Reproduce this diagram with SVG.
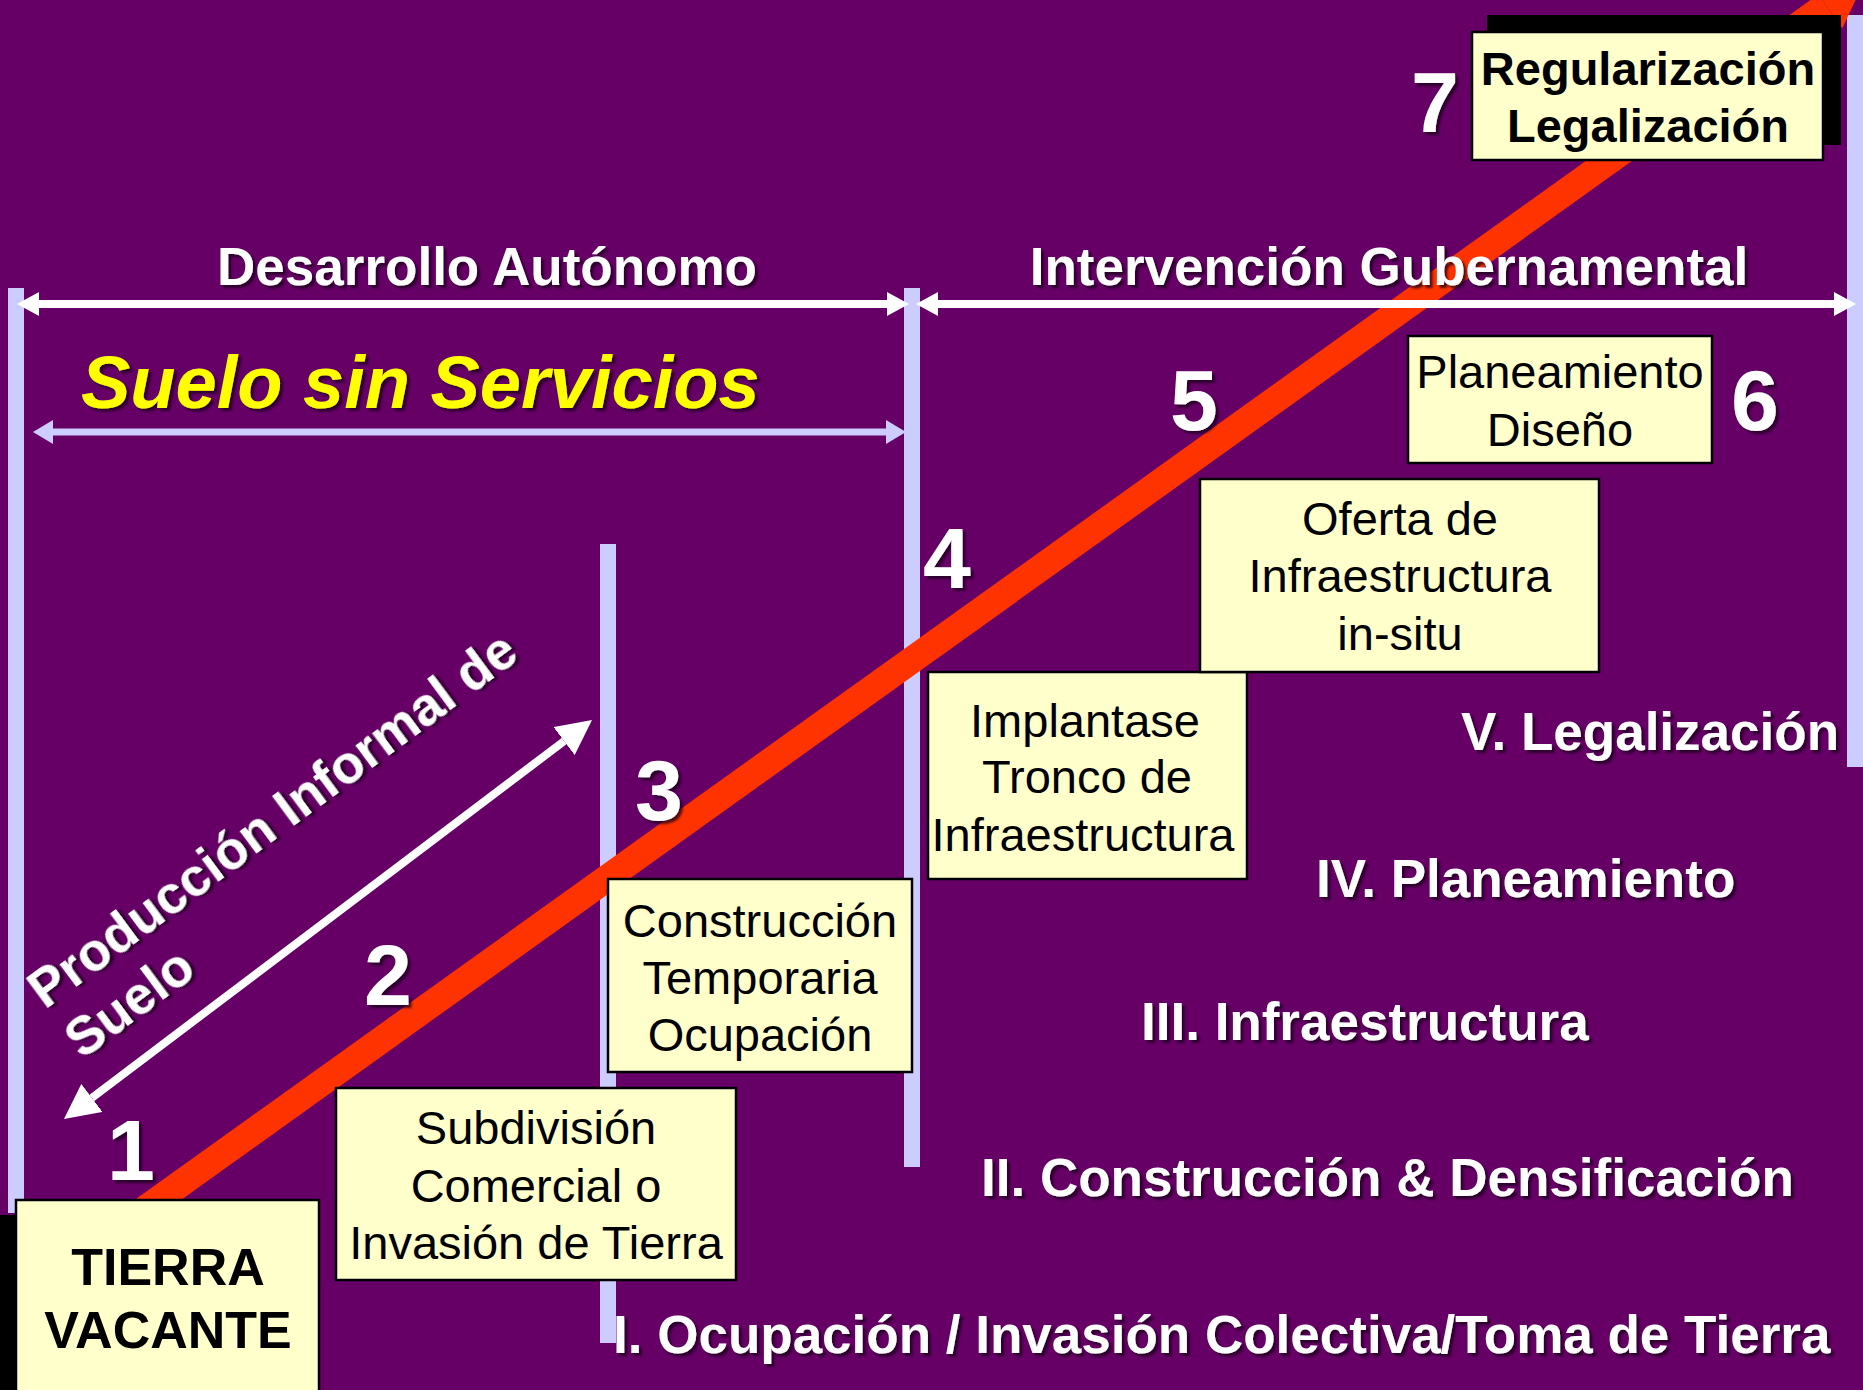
<svg xmlns="http://www.w3.org/2000/svg" width="1863" height="1390" viewBox="0 0 1863 1390">
<defs>
<style>
.bar{fill:#CCCCFF}
.box{fill:#FFFFCC;stroke:#000;stroke-width:2.5}
.shadowbox{fill:#000}
.bt{font-family:"Liberation Sans",Arial,sans-serif;font-size:47px;fill:#000;text-anchor:middle}
.bb{font-family:"Liberation Sans",Arial,sans-serif;font-weight:bold;fill:#000;text-anchor:middle}
.wt{font-family:"Liberation Sans",Arial,sans-serif;font-weight:bold;font-size:53px;fill:#fff;filter:url(#sh)}
.num{font-family:"Liberation Sans",Arial,sans-serif;font-weight:bold;font-size:86px;fill:#fff;text-anchor:middle;filter:url(#sh)}
.wline{stroke:#fff;stroke-width:8;fill:none}
.lline{stroke:#CCCCFF;stroke-width:7;fill:none}
</style>
<filter id="sh" x="-10%" y="-20%" width="130%" height="150%">
<feDropShadow dx="3" dy="3" stdDeviation="1.2" flood-color="#1a001a" flood-opacity="0.75"/>
</filter>
<marker id="wh" markerUnits="userSpaceOnUse" markerWidth="22" markerHeight="24" refX="0" refY="12" orient="auto-start-reverse">
<path d="M0,0 L22,12 L0,24 z" fill="#fff"/>
</marker>
<marker id="lh" markerUnits="userSpaceOnUse" markerWidth="20" markerHeight="24" refX="0" refY="12" orient="auto-start-reverse">
<path d="M0,0 L20,12 L0,24 z" fill="#CCCCFF"/>
</marker>
<marker id="wd" markerUnits="userSpaceOnUse" markerWidth="35" markerHeight="35" refX="0" refY="17.5" orient="auto-start-reverse">
<path d="M0,0 L35,17.5 L0,35 z" fill="#fff"/>
</marker>
</defs>
<rect x="0" y="0" width="1863" height="1390" fill="#660066"/>

<g id="bars">
<rect class="bar" x="8" y="288" width="16" height="925"/>
<rect class="bar" x="600" y="544" width="16" height="799"/>
<rect class="bar" x="904" y="288" width="16" height="879"/>
<rect class="bar" x="1847" y="15" width="16" height="752"/>
</g>

<g id="connectors">
<line x1="141" y1="1212" x2="1826" y2="5.5" stroke="#FF3300" stroke-width="27"/>
<polygon points="1842.3,28.3 1809.7,-17.3 1866.7,-23.6" fill="#FF3300"/>
<line class="wline" x1="39" y1="304" x2="887" y2="304" marker-start="url(#wh)" marker-end="url(#wh)"/>
<line class="wline" x1="938" y1="304" x2="1834" y2="304" marker-start="url(#wh)" marker-end="url(#wh)"/>
<line class="lline" x1="53" y1="432" x2="886" y2="432" marker-start="url(#lh)" marker-end="url(#lh)"/>
<line class="wline" x1="91.9" y1="1097.9" x2="564.1" y2="741.1" marker-start="url(#wd)" marker-end="url(#wd)"/>
</g>

<g id="labels">
<text class="wt" x="487" y="285" text-anchor="middle">Desarrollo Autónomo</text>
<text class="wt" x="1389" y="285" text-anchor="middle">Intervención Gubernamental</text>
<text x="81" y="408" font-family="Liberation Sans, Arial, sans-serif" font-weight="bold" font-style="italic" font-size="74" fill="#FFFF00" filter="url(#sh)">Suelo sin Servicios</text>
<g transform="translate(45,1010) rotate(-36.5)">
<text class="wt" x="0" y="0">Producción Informal de</text>
<text class="wt" x="0" y="62">Suelo</text>
</g>
</g>

<g id="node-tierra">
<rect class="shadowbox" x="-20" y="1215" width="323" height="200"/>
<rect class="box" x="16" y="1200" width="303" height="210"/>
<text class="bb" font-size="52" x="168" y="1285">TIERRA</text>
<text class="bb" font-size="52" x="168" y="1348">VACANTE</text>
</g>

<g id="node-subdivision">
<rect class="box" x="336" y="1088" width="400" height="192"/>
<text class="bt" x="536" y="1144">Subdivisión</text>
<text class="bt" x="536" y="1202">Comercial o</text>
<text class="bt" x="536" y="1259">Invasión de Tierra</text>
</g>

<g id="node-construccion">
<rect class="box" x="608" y="879" width="304" height="193"/>
<text class="bt" x="760" y="937">Construcción</text>
<text class="bt" x="760" y="994">Temporaria</text>
<text class="bt" x="760" y="1051">Ocupación</text>
</g>

<g id="node-implantase">
<rect class="box" x="928" y="672" width="319" height="207"/>
<text class="bt" x="1085" y="737">Implantase</text>
<text class="bt" x="1087" y="793">Tronco de</text>
<text class="bt" x="1083" y="851">Infraestructura</text>
</g>

<g id="node-oferta">
<rect class="box" x="1200" y="479" width="399" height="193"/>
<text class="bt" x="1400" y="535">Oferta de</text>
<text class="bt" x="1400" y="592">Infraestructura</text>
<text class="bt" x="1400" y="650">in-situ</text>
</g>

<g id="node-planeamiento">
<rect class="box" x="1408" y="336" width="304" height="127"/>
<text class="bt" x="1560" y="388">Planeamiento</text>
<text class="bt" x="1560" y="446">Diseño</text>
</g>

<g id="node-regularizacion">
<rect class="shadowbox" x="1487" y="15" width="354" height="130"/>
<rect class="box" x="1472" y="32" width="351" height="128"/>
<text class="bb" font-size="47" x="1648" y="85">Regularización</text>
<text class="bb" font-size="47" x="1648" y="142">Legalización</text>
</g>

<g id="numbers">
<text class="num" x="131" y="1180">1</text>
<text class="num" x="388" y="1005">2</text>
<text class="num" x="659" y="820">3</text>
<text class="num" x="947" y="588">4</text>
<text class="num" x="1194" y="430">5</text>
<text class="num" x="1755" y="430">6</text>
<text class="num" x="1435" y="132">7</text>
</g>

<g id="stages">
<text class="wt" x="1461" y="750">V. Legalización</text>
<text class="wt" x="1316" y="897">IV. Planeamiento</text>
<text class="wt" x="1141" y="1040">III. Infraestructura</text>
<text class="wt" x="981" y="1196">II. Construcción &amp; Densificación</text>
<text class="wt" x="613" y="1353">I. Ocupación / Invasión Colectiva/Toma de Tierra</text>
</g>
</svg>
